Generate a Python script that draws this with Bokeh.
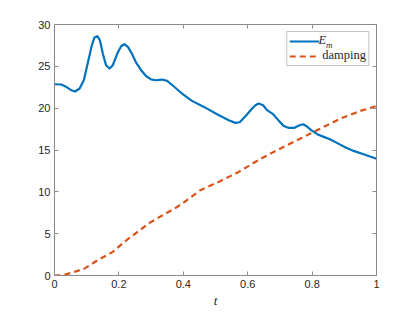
from bokeh.plotting import figure
from bokeh.models import (LinearAxis, Range1d, Legend, LegendItem, Label, FixedTicker,
                          CustomJSTickFormatter)
from bokeh.embed import file_html
from bokeh.resources import INLINE

t_em = [0.0, 0.021, 0.036, 0.052, 0.064, 0.078, 0.091, 0.103, 0.116, 0.124, 0.133, 0.141,
        0.150, 0.160, 0.171, 0.181, 0.195, 0.207, 0.217, 0.228, 0.240, 0.254, 0.269,
        0.285, 0.300, 0.314, 0.334, 0.350, 0.370, 0.396, 0.427, 0.464, 0.505, 0.541,
        0.562, 0.575, 0.593, 0.614, 0.624, 0.634, 0.648, 0.660, 0.679, 0.697, 0.712,
        0.728, 0.744, 0.759, 0.772, 0.783, 0.797, 0.816, 0.836, 0.857, 0.877, 0.904,
        0.929, 0.960, 1.0]
em = [22.86, 22.83, 22.55, 22.15, 21.99, 22.35, 23.34, 25.34, 27.52, 28.44, 28.6, 28.12,
      26.53, 25.13, 24.74, 25.13, 26.53, 27.4, 27.64, 27.32, 26.53, 25.41, 24.54,
      23.82, 23.45, 23.34, 23.42, 23.26, 22.62, 21.75, 20.87, 20.15, 19.28, 18.56,
      18.24, 18.32, 19.04, 19.95, 20.35, 20.56, 20.35, 19.76, 19.28, 18.48, 17.88,
      17.64, 17.64, 17.92, 18.08, 17.84, 17.37, 16.89, 16.57, 16.25, 15.85, 15.3,
      14.89, 14.5, 13.96]

t_damp = [0.0, 0.026, 0.052, 0.093, 0.134, 0.181, 0.217, 0.254, 0.295, 0.336, 0.373,
          0.404, 0.453, 0.516, 0.572, 0.640, 0.702, 0.764, 0.826, 0.888, 0.950, 1.0]
damp = [0.0, 0.04, 0.31, 0.83, 1.83, 2.82, 4.02, 5.1, 6.29, 7.21, 8.0,
        8.8, 10.2, 11.3, 12.38, 13.95, 15.18, 16.37, 17.57, 18.76, 19.67, 20.25]

x_ticks = [0, 0.2, 0.4, 0.6, 0.8, 1]
y_ticks = [0, 5, 10, 15, 20, 25, 30]

BLUE = "#0072BD"
ORANGE = "#D95319"
AX = "#8a8a8a"
TXT = "#262626"

p = figure(frame_width=322, frame_height=251, output_backend="svg", toolbar_location=None,
           x_range=Range1d(0, 1), y_range=Range1d(0, 30),
           min_border_left=54, min_border_right=39, min_border_top=24, min_border_bottom=37)
p.grid.visible = False
p.outline_line_color = None
p.background_fill_color = "white"
p.border_fill_color = "white"

l1 = p.line(t_em, em, line_color=BLUE, line_width=2.2, line_join="round")
l2 = p.line(t_damp, damp, line_color=ORANGE, line_width=2.2, line_dash="6 4")

def style(ax, labels=True):
    ax.axis_line_color = AX
    ax.major_tick_line_color = AX
    ax.major_tick_in = 4
    ax.major_tick_out = 0
    ax.minor_tick_line_color = None
    ax.major_label_text_color = TXT
    ax.major_label_text_font = "Liberation Sans"
    ax.major_label_text_font_size = "11px"
    ax.major_label_standoff = 4 if labels else 0
    if not labels:
        ax.formatter = CustomJSTickFormatter(code="return ''")

xa = p.xaxis[0]
xa.ticker = FixedTicker(ticks=x_ticks)
style(xa)
xa.axis_label = "t"
xa.axis_label_text_font = "Liberation Serif"
xa.axis_label_text_font_style = "italic"
xa.axis_label_text_font_size = "13px"
xa.axis_label_text_color = TXT
xa.axis_label_standoff = 2

ya = p.yaxis[0]
ya.ticker = FixedTicker(ticks=y_ticks)
style(ya)

top = LinearAxis(ticker=FixedTicker(ticks=x_ticks))
style(top, labels=False)
p.add_layout(top, "above")
right = LinearAxis(ticker=FixedTicker(ticks=y_ticks))
style(right, labels=False)
p.add_layout(right, "right")

p.add_layout(Label(x=0.82, y=27.35, text="E", text_font="Liberation Serif",
                   text_font_style="italic", text_font_size="12.5px", text_color=TXT))
p.add_layout(Label(x=0.843, y=26.95, text="m", text_font="Liberation Serif",
                   text_font_style="italic", text_font_size="9px", text_color=TXT))

legend = Legend(items=[LegendItem(label=" ", renderers=[l1]),
                       LegendItem(label="damping", renderers=[l2])],
                location="top_right")
legend.label_text_font = "Liberation Serif"
legend.label_text_font_size = "12.5px"
legend.label_text_color = TXT
legend.border_line_color = AX
legend.border_line_width = 1
legend.background_fill_alpha = 0
legend.glyph_width = 30
legend.glyph_height = 14
legend.label_height = 14
legend.label_standoff = 3
legend.padding = 2
legend.spacing = 0
legend.margin = 7
p.add_layout(legend)

open("out.html", "w").write(file_html(p, INLINE))
